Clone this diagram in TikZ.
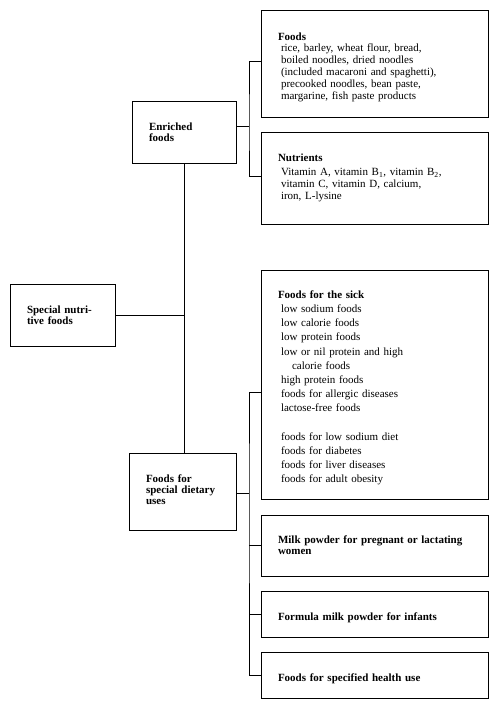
\documentclass[tikz,border=0pt]{standalone}
\usepackage{fontspec}
\setmainfont{Liberation Serif}
\begin{document}
\begin{tikzpicture}[x=1pt,y=-1pt,
  box/.style={draw,line width=0.9pt,rectangle,inner sep=0pt,anchor=center},
  txt/.style={inner sep=0pt,align=left,anchor=center},
  dense/.style={font=\fontsize{11}{11.8}\selectfont},
  loose/.style={font=\fontsize{11}{14.2}\selectfont},
  head/.style={font=\fontsize{11}{11}\selectfont\bfseries},
  conn/.style={line width=0.9pt}]
\useasboundingbox (0,0) rectangle (500,711);
\newcommand{\ind}{\hspace*{3pt}}
% boxes
\node[box,minimum width=227pt,minimum height=107pt] (foods) at (374.5,63.5) {};
\node[box,minimum width=227pt,minimum height=92pt] (nutr) at (374.5,178) {};
\node[box,minimum width=227pt,minimum height=229pt] (sick) at (374.5,384.5) {};
\node[box,minimum width=227pt,minimum height=61pt] (milk) at (374.5,545.5) {};
\node[box,minimum width=227pt,minimum height=46pt] (formula) at (374.5,614) {};
\node[box,minimum width=227pt,minimum height=46pt] (health) at (374.5,675) {};
\node[box,minimum width=104pt,minimum height=62pt] (enr) at (184,132) {};
\node[box,minimum width=105pt,minimum height=62pt] (spec) at (62.5,315) {};
\node[box,minimum width=107pt,minimum height=77pt] (fsdu) at (182.5,491.5) {};
% texts
\node[txt,dense,text width=193pt] (foods-t) at ([yshift=-3.5pt]foods.center)
 {\textbf{Foods}\\\ind rice, barley, wheat flour, bread,\\\ind boiled noodles, dried noodles\\\ind (included macaroni and spaghetti),\\\ind precooked noodles, bean paste,\\\ind margarine, fish paste products};
\node[txt,dense,text width=193pt] (nutr-t) at (nutr.center)
 {\textbf{Nutrients}\\[2pt]\ind Vitamin A, vitamin B\textsubscript{1}, vitamin B\textsubscript{2},\\\ind vitamin C, vitamin D, calcium,\\\ind iron, L-lysine};
\node[txt,loose,text width=193pt] (sick-t) at ([yshift=-3.5pt]sick.center)
 {\textbf{Foods for the sick}\\\ind low sodium foods\\\ind low calorie foods\\\ind low protein foods\\\ind low or nil protein and high\\\hspace*{14pt}calorie foods\\\ind high protein foods\\\ind foods for allergic diseases\\\ind lactose-free foods\\\mbox{}\\\ind foods for low sodium diet\\\ind foods for diabetes\\\ind foods for liver diseases\\\ind foods for adult obesity};
\node[txt,head,text width=193pt] (milk-t) at (milk.center)
 {Milk powder for pregnant or lactating\\women};
\node[txt,head,text width=193pt] (formula-t) at ([yshift=-3.5pt]formula.center)
 {Formula milk powder for infants};
\node[txt,head,text width=193pt] (health-t) at ([yshift=-3.5pt]health.center)
 {Foods for specified health use};
\node[txt,head,text width=70pt] (enr-t) at (enr.center) {Enriched\\foods};
\node[txt,head,text width=71pt] (spec-t) at (spec.center) {Special nutri-\\tive foods};
\node[txt,head,text width=73pt] (fsdu-t) at ([yshift=1.5pt]fsdu.center) {Foods for\\special dietary\\uses};
% connectors
\coordinate (j1) at (249,126);
\coordinate (j2) at (249,493);
\draw[conn] ([yshift=2.5pt]foods.west) -| (j1) |- ([yshift=2pt]nutr.west);
\draw[conn] (enr.east |- j1) -- (j1);
\draw[conn] (enr.south) -- (enr.south |- fsdu.north);
\draw[conn] (spec.east) -- (spec.east -| enr.south);
\draw[conn] ([yshift=-7.5pt]sick.west) -| (j2) |- (health.west);
\draw[conn] (fsdu.east |- j2) -- (j2);
\draw[conn] (milk.west) -- (milk.west -| j2);
\draw[conn] (formula.west) -- (formula.west -| j2);
\end{tikzpicture}
\end{document}
